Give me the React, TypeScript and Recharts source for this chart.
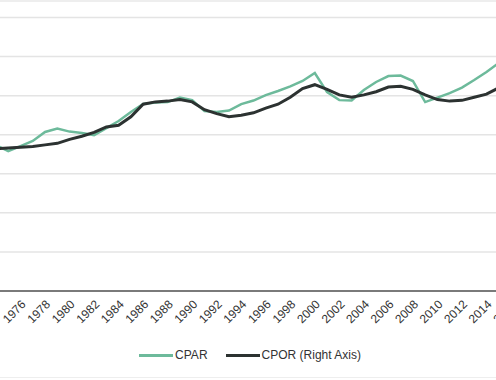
import { LineChart, Line, XAxis, YAxis, CartesianGrid, Legend } from 'recharts';

const years = [
  1974, 1975, 1976, 1977, 1978, 1979, 1980, 1981, 1982, 1983,
  1984, 1985, 1986, 1987, 1988, 1989, 1990, 1991, 1992, 1993,
  1994, 1995, 1996, 1997, 1998, 1999, 2000, 2001, 2002, 2003,
  2004, 2005, 2006, 2007, 2008, 2009, 2010, 2011, 2012, 2013,
  2014, 2015, 2016
];

// CPAR (left axis)
const cpar = [
  74.7, 71.6, 74.2, 76.8, 81.4, 83.2, 81.6, 80.9, 79.8, 83.4,
  87.0, 91.6, 95.7, 96.5, 96.7, 99.0, 97.7, 92.1, 91.6, 92.4,
  95.7, 97.5, 100.3, 102.4, 104.7, 107.5, 111.6, 101.8, 97.7, 97.5,
  102.9, 107.0, 110.0, 110.3, 107.5, 96.7, 99.0, 101.3, 104.1, 108.0,
  112.1, 116.7, 120.3
];

// CPOR (right axis)
const cpor = [
  1.82, 1.83, 1.84, 1.85, 1.87, 1.89, 1.94, 1.98, 2.03, 2.10,
  2.12, 2.23, 2.39, 2.42, 2.43, 2.45, 2.42, 2.32, 2.27, 2.23,
  2.25, 2.28, 2.34, 2.39, 2.48, 2.59, 2.64, 2.58, 2.51, 2.48,
  2.51, 2.55, 2.61, 2.62, 2.58, 2.51, 2.45, 2.43, 2.44, 2.48,
  2.52, 2.60, 2.65
];

const yearTicks = [
  1976, 1978, 1980, 1982, 1984, 1986, 1988, 1990, 1992, 1994,
  1996, 1998, 2000, 2002, 2004, 2006, 2008, 2010, 2012, 2014, 2016
];
const leftTicks = [0, 20, 40, 60, 80, 100, 120, 140];
const rightTicks = [0, 0.5, 1, 1.5, 2, 2.5, 3, 3.5];

const GREEN = '#6dba9b';
const DARK = '#2c3231';
const FONT = '"Liberation Sans", Arial, sans-serif';

const legendItems = [
  { label: 'CPAR', color: GREEN },
  { label: 'CPOR (Right Axis)', color: DARK }
];

function ChartLegend() {
  return (
    <div style={{ display: 'flex', justifyContent: 'center', alignItems: 'center', height: 24, fontFamily: FONT, fontSize: 12, color: '#333' }}>
      {legendItems.map((item, i) => (
        <div key={item.label} style={{ display: 'flex', alignItems: 'center', marginLeft: i === 0 ? 0 : 18 }}>
          <span style={{ display: 'inline-block', width: 34, height: 3, background: item.color, marginRight: 2 }} />
          <span>{item.label}</span>
        </div>
      ))}
    </div>
  );
}

export default function App() {
  const chartData = years.map((year, i) => ({ year, cpar: cpar[i], cpor: cpor[i] }));

  return (
    <div style={{ position: 'fixed', left: 0, top: 0, width: 496, height: 380, overflow: 'hidden', background: '#fff' }}>
      <div style={{ position: 'absolute', left: 0, top: 0, width: 496, height: 2, background: '#eeeeee' }} />
      <div style={{ position: 'absolute', left: 0, top: 377, width: 496, height: 1, background: '#eeeeee' }} />
      <div style={{ position: 'absolute', left: -20, top: 0 }}>
        <LineChart width={541} height={380} data={chartData} margin={{ top: 17.5, right: 10, left: 16, bottom: 13 }}>
          <CartesianGrid yAxisId="left" vertical={false} stroke="#e4e4e4" strokeWidth={1.5} />
          <XAxis
            dataKey="year"
            type="number"
            domain={[1974, 2016]}
            ticks={yearTicks}
            interval={0}
            height={52}
            angle={-45}
            textAnchor="end"
            tickLine={false}
            axisLine={{ stroke: '#555', strokeWidth: 1.5 }}
            tick={{ fill: '#333', fontSize: 12, fontFamily: FONT }}
          />
          <YAxis yAxisId="left" domain={[0, 140]} ticks={leftTicks} hide />
          <YAxis yAxisId="right" orientation="right" domain={[0, 3.5]} ticks={rightTicks} hide />
          <Legend
            verticalAlign="bottom"
            content={() => <ChartLegend />}
            wrapperStyle={{ left: 22, width: 496, height: 24 }}
          />
          <Line
            yAxisId="left"
            type="linear"
            dataKey="cpar"
            name="CPAR"
            stroke={GREEN}
            strokeWidth={2.5}
            dot={false}
            isAnimationActive={false}
          />
          <Line
            yAxisId="right"
            type="linear"
            dataKey="cpor"
            name="CPOR (Right Axis)"
            stroke={DARK}
            strokeWidth={3}
            dot={false}
            isAnimationActive={false}
          />
        </LineChart>
      </div>
    </div>
  );
}
